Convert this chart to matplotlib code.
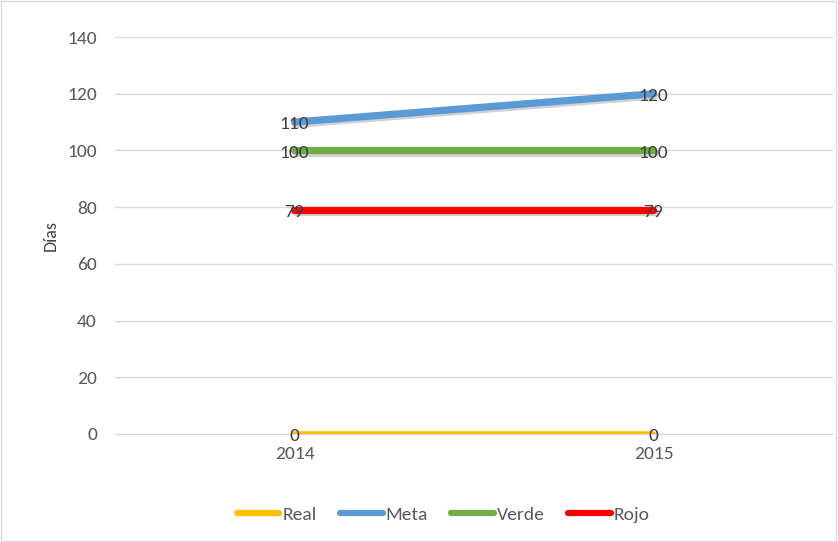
import matplotlib
matplotlib.use("Agg")
import matplotlib.pyplot as plt
import matplotlib.patheffects as pe

years = ["2014", "2015"]
real = [0, 0]
meta = [110, 120]
verde = [100, 100]
rojo = [79, 79]

series = [
    ("Real", real, "#FFC000", 4.0),
    ("Meta", meta, "#5B9BD5", 5.2),
    ("Verde", verde, "#70AD47", 5.2),
    ("Rojo", rojo, "#FF0000", 5.2),
]

plt.rcParams["font.family"] = ["Carlito", "DejaVu Sans"]

fig = plt.figure(figsize=(8.38, 5.42), dpi=100)
ax = fig.add_axes([0.1372, 0.1993, 0.8568, 0.7324])

x = list(range(len(years)))
for name, vals, col, lw in series:
    shadow = [pe.SimpleLineShadow(offset=(0.8, -1.6), shadow_color="#000000", alpha=0.18),
              pe.Normal()]
    ax.plot(x, vals, color=col, lw=lw, solid_capstyle="round", label=name,
            path_effects=shadow, zorder=3)
    for xi, v in zip(x, vals):
        ax.text(xi, v - 0.8, str(v), ha="center", va="center", fontsize=14,
                color="#404040", zorder=5)

ax.set_xlim(-0.5, 1.5)
ax.set_ylim(0, 140)
ax.set_yticks(range(0, 141, 20))
ax.set_xticks(x)
ax.set_xticklabels(years)
ax.grid(axis="y", color="#D9D9D9", lw=1)
ax.set_axisbelow(True)
for s in ["top", "right", "left"]:
    ax.spines[s].set_visible(False)
ax.spines["bottom"].set_color("#D9D9D9")
ax.tick_params(axis="both", length=0, labelsize=14, colors="#595959")
ax.tick_params(axis="y", pad=13)
ax.tick_params(axis="x", pad=9)
ax.set_ylabel("Días", fontsize=13, color="#404040", labelpad=6)

leg = fig.legend(loc="center", bbox_to_anchor=(0.529, 0.051), ncol=4, frameon=False,
                 fontsize=14, handlelength=2.2, columnspacing=1.2, handletextpad=0.15,
                 labelcolor="#595959")
for h in leg.get_lines():
    h.set_linewidth(4.5)
    h.set_solid_capstyle("round")
    h.set_path_effects([])

fig.patches.append(plt.Rectangle((0.001, 0.001), 0.997, 0.997, transform=fig.transFigure,
                                 fill=False, edgecolor="#D9D9D9", lw=1))
fig.savefig("out.png", dpi=100)
